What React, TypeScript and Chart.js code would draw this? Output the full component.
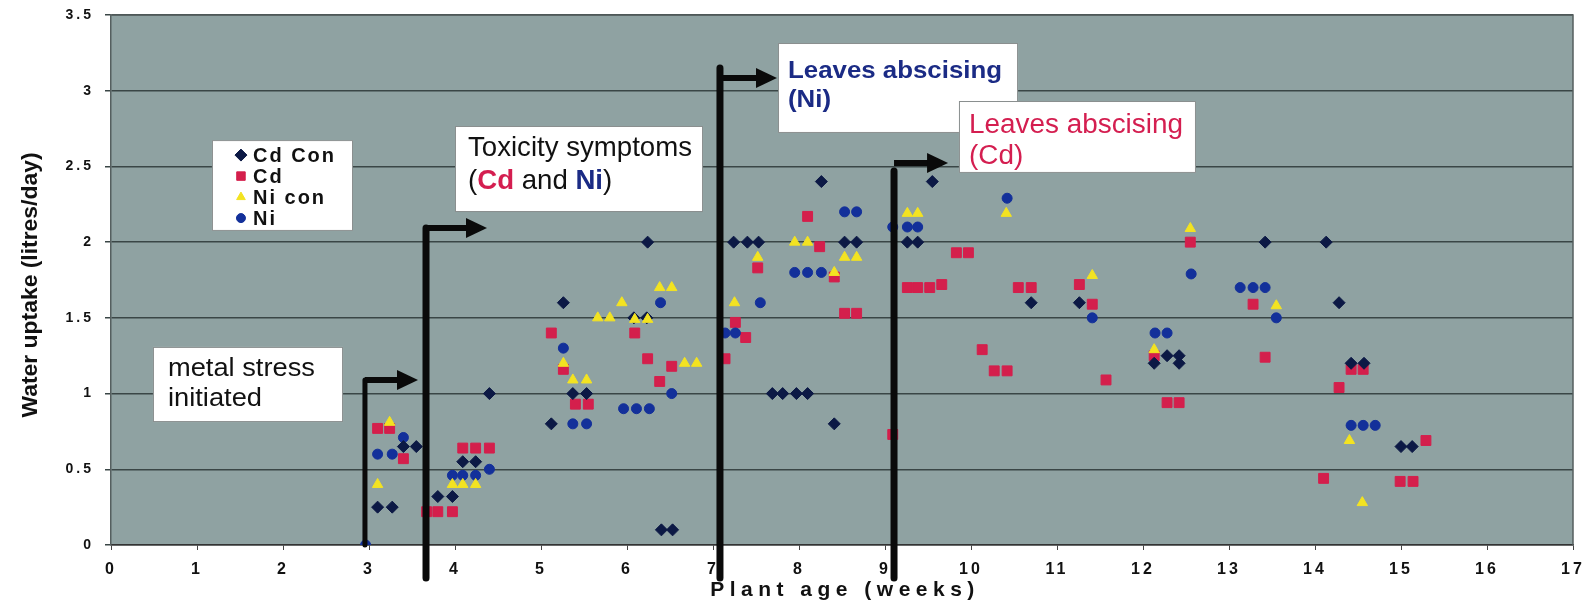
import React, { useEffect, useRef } from 'react';
import { Chart, registerables } from 'chart.js';
import { drawPoint } from 'chart.js/helpers';

Chart.register(...registerables);

// ---------------- DATA ----------------
const seriesLabels = ['Cd Con', 'Cd', 'Ni con', 'Ni'];

const cdConWeeks = [3.10, 3.27, 3.40, 3.55, 3.80, 3.97, 4.09, 4.24, 4.40, 5.12, 5.26, 5.37, 5.53, 6.08, 6.23, 6.24, 6.40, 6.53,
  7.24, 7.40, 7.53, 7.69, 7.81, 7.97, 8.10, 8.26, 8.41, 8.53, 8.67, 9.26, 9.38, 9.55, 10.70, 11.26, 12.13, 12.28, 12.42, 12.42,
  13.42, 14.13, 14.28, 14.42, 14.57, 15.00, 15.13];
const cdConValues = [0.25, 0.25, 0.65, 0.65, 0.32, 0.32, 0.55, 0.55, 1.00, 0.80, 1.60, 1.00, 1.00, 1.50, 1.50, 2.00, 0.10, 0.10,
  2.00, 2.00, 2.00, 1.00, 1.00, 1.00, 1.00, 2.40, 0.80, 2.00, 2.00, 2.00, 2.00, 2.40, 1.60, 1.60, 1.20, 1.25, 1.25, 1.20,
  2.00, 2.00, 1.60, 1.20, 1.20, 0.65, 0.65];

const cdWeeks = [3.10, 3.24, 3.40, 3.67, 3.80, 3.97, 4.09, 4.24, 4.40, 5.12, 5.26, 5.40, 5.55, 6.09, 6.24, 6.38, 6.52,
  7.14, 7.26, 7.38, 7.52, 8.10, 8.24, 8.41, 8.53, 8.67, 9.09, 9.26, 9.38, 9.52, 9.66, 9.83, 9.97, 10.13, 10.27, 10.42,
  10.55, 10.70, 11.26, 11.41, 11.57, 12.13, 12.28, 12.42, 12.55, 13.28, 13.42, 14.10, 14.28, 14.42, 14.56, 14.99, 15.14, 15.29];
const cdValues = [0.77, 0.77, 0.57, 0.22, 0.22, 0.22, 0.64, 0.64, 0.64, 1.40, 1.16, 0.93, 0.93, 1.40, 1.23, 1.08, 1.18,
  1.23, 1.47, 1.37, 1.83, 2.17, 1.97, 1.77, 1.53, 1.53, 0.73, 1.70, 1.70, 1.70, 1.72, 1.93, 1.93, 1.29, 1.15, 1.15,
  1.70, 1.70, 1.72, 1.59, 1.09, 1.25, 0.94, 0.94, 2.00, 1.59, 1.24, 0.44, 1.04, 1.16, 1.16, 0.42, 0.42, 0.69];

const niConWeeks = [3.10, 3.24, 3.97, 4.09, 4.24, 5.26, 5.37, 5.53, 5.66, 5.80, 5.94, 6.09, 6.24, 6.38, 6.52, 6.67, 6.81,
  7.25, 7.52, 7.95, 8.10, 8.41, 8.53, 8.67, 9.26, 9.38, 10.41, 11.41, 12.13, 12.55, 13.55, 14.40, 14.55];
const niConValues = [0.40, 0.81, 0.40, 0.40, 0.40, 1.20, 1.09, 1.09, 1.50, 1.50, 1.60, 1.49, 1.49, 1.70, 1.70, 1.20, 1.20,
  1.60, 1.90, 2.00, 2.00, 1.80, 1.90, 1.90, 2.19, 2.19, 2.19, 1.78, 1.29, 2.09, 1.58, 0.69, 0.28];

const niWeeks = [2.96, 3.10, 3.27, 3.40, 3.97, 4.09, 4.24, 4.40, 5.26, 5.37, 5.53, 5.96, 6.11, 6.26, 6.39, 6.52,
  7.14, 7.26, 7.55, 7.95, 8.10, 8.26, 8.53, 8.67, 9.09, 9.26, 9.38, 10.42, 11.41, 12.14, 12.28, 12.56,
  13.13, 13.28, 13.42, 13.55, 14.42, 14.56, 14.70];
const niValues = [0.00, 0.60, 0.60, 0.71, 0.46, 0.46, 0.46, 0.50, 1.30, 0.80, 0.80, 0.90, 0.90, 0.90, 1.60, 1.00,
  1.40, 1.40, 1.60, 1.80, 1.80, 1.80, 2.20, 2.20, 2.10, 2.10, 2.10, 2.29, 1.50, 1.40, 1.40, 1.79,
  1.70, 1.70, 1.70, 1.50, 0.79, 0.79, 0.79];

const xTitle = 'Plant age (weeks)';
const yTitle = 'Water uptake (litres/day)';

// ---------------- STYLE ----------------
const FONT = '"Liberation Sans", Arial, Helvetica, sans-serif';
const PLOT_BG = '#8fa2a2';
const GRID = '#3a4646';
const C_CDCON = '#0c1945';
const C_CD = '#d41f4c';
const C_NICON = '#f3e321';
const C_NI = '#13309a';
const NAVY_TXT = '#1b2b85';
const CRIMSON_TXT = '#d41e50';

const toPoints = (xs: number[], ys: number[]) => xs.map((x, i) => ({ x, y: ys[i] }));

// annotation layout (in axis units)
const arrows = [
  { x: 2.953, yBottom: 0, yTop: 1.09, yArrow: 1.09, xEnd: 3.57, lw: 5 },
  { x: 3.663, yBottom: -0.218, yTop: 2.093, yArrow: 2.093, xEnd: 4.372, lw: 7 },
  { x: 7.081, yBottom: -0.218, yTop: 3.15, yArrow: 3.084, xEnd: 7.744, lw: 7 },
  { x: 9.105, yBottom: -0.218, yTop: 2.47, yArrow: 2.523, xEnd: 9.733, lw: 7 },
];

type Seg = { t: string; c: string; bold?: boolean };
const boxes: { x0: number; x1: number; yTop: number; yBot: number; pad: number; size: number; bold: boolean; target: number; base: number[]; lines: Seg[][] }[] = [
  { x0: 0.488, x1: 2.698, yTop: 1.308, yBot: 0.812, pad: 15, size: 25, bold: false, target: 147, base: [29, 59],
    lines: [[{ t: 'metal stress', c: '#111' }], [{ t: 'initiated', c: '#111' }]] },
  { x0: 4.0, x1: 6.884, yTop: 2.767, yBot: 2.199, pad: 13, size: 28, bold: false, target: 224, base: [30, 63],
    lines: [[{ t: 'Toxicity symptoms', c: '#111' }],
      [{ t: '(', c: '#111' }, { t: 'Cd', c: CRIMSON_TXT, bold: true }, { t: ' and ', c: '#111' }, { t: 'Ni', c: NAVY_TXT, bold: true }, { t: ')', c: '#111' }]] },
  { x0: 7.756, x1: 10.547, yTop: 3.315, yBot: 2.721, pad: 10, size: 24, bold: true, target: 214, base: [35, 64],
    lines: [[{ t: 'Leaves abscising', c: NAVY_TXT }], [{ t: '(Ni)', c: NAVY_TXT }]] },
  { x0: 9.860, x1: 12.616, yTop: 2.932, yBot: 2.457, pad: 10, size: 27, bold: false, target: 214, base: [32, 63],
    lines: [[{ t: 'Leaves abscising', c: CRIMSON_TXT }], [{ t: '(Cd)', c: CRIMSON_TXT }]] },
];

const legendBox = { x0: 1.174, x1: 2.814, yTop: 2.674, yBot: 2.074 };

const segFont = (size: number, bold: boolean) => `${bold ? 'bold ' : ''}${size}px ${FONT}`;

const decorPlugin = {
  id: 'decor',
  beforeDraw(chart: any) {
    const { ctx, chartArea: a } = chart;
    ctx.save();
    ctx.fillStyle = '#ffffff';
    ctx.fillRect(0, 0, chart.width, chart.height);
    ctx.fillStyle = PLOT_BG;
    ctx.fillRect(a.left, a.top, a.right - a.left, a.bottom - a.top);
    ctx.restore();
    ctx.letterSpacing = '3px';
  },
  beforeDatasetsDraw(chart: any) {
    chart.ctx.letterSpacing = '0px';
  },
  afterDatasetsDraw(chart: any) {
    const { ctx, chartArea: a } = chart;
    const xs = chart.scales.x;
    const ys = chart.scales.y;
    ctx.save();
    ctx.letterSpacing = '0px';

    // plot frame (top / right)
    ctx.strokeStyle = '#555f5f';
    ctx.lineWidth = 1.5;
    ctx.beginPath();
    ctx.moveTo(a.left, a.top);
    ctx.lineTo(a.right, a.top);
    ctx.lineTo(a.right, a.bottom);
    ctx.stroke();

    // arrows
    ctx.fillStyle = '#0a0a0a';
    ctx.strokeStyle = '#0a0a0a';
    for (const ar of arrows) {
      const px = xs.getPixelForValue(ar.x);
      const pb = ys.getPixelForValue(ar.yBottom);
      const pt = ys.getPixelForValue(ar.yTop);
      const pa = ys.getPixelForValue(ar.yArrow);
      const pe = xs.getPixelForValue(ar.xEnd);
      ctx.lineWidth = ar.lw;
      ctx.lineCap = 'round';
      ctx.beginPath();
      ctx.moveTo(px, pb);
      ctx.lineTo(px, pt);
      ctx.stroke();
      ctx.lineWidth = 6;
      ctx.lineCap = 'butt';
      ctx.beginPath();
      ctx.moveTo(px, pa);
      ctx.lineTo(pe - 16, pa);
      ctx.stroke();
      ctx.beginPath();
      ctx.moveTo(pe, pa);
      ctx.lineTo(pe - 21, pa - 10);
      ctx.lineTo(pe - 21, pa + 10);
      ctx.closePath();
      ctx.fill();
    }

    // text boxes
    for (const b of boxes) {
      const l = xs.getPixelForValue(b.x0);
      const r = xs.getPixelForValue(b.x1);
      const t = ys.getPixelForValue(b.yTop);
      const bt = ys.getPixelForValue(b.yBot);
      ctx.fillStyle = '#ffffff';
      ctx.fillRect(l, t, r - l, bt - t);
      ctx.strokeStyle = '#8a8f8f';
      ctx.lineWidth = 1;
      ctx.strokeRect(l + 0.5, t + 0.5, r - l - 1, bt - t - 1);
      const measure = (segs: Seg[]) => segs.reduce((s, sg) => {
        ctx.font = segFont(b.size, b.bold || !!sg.bold);
        return s + ctx.measureText(sg.t).width;
      }, 0);
      const sx = b.target / measure(b.lines[0]);
      b.lines.forEach((segs, li) => {
        ctx.save();
        ctx.translate(l + b.pad, t + b.base[li]);
        ctx.scale(sx, 1);
        let cx = 0;
        ctx.textBaseline = 'alphabetic';
        ctx.textAlign = 'left';
        for (const sg of segs) {
          ctx.font = segFont(b.size, b.bold || !!sg.bold);
          ctx.fillStyle = sg.c;
          ctx.fillText(sg.t, cx, 0);
          cx += ctx.measureText(sg.t).width;
        }
        ctx.restore();
      });
    }

    // legend
    {
      const l = xs.getPixelForValue(legendBox.x0);
      const r = xs.getPixelForValue(legendBox.x1);
      const t = ys.getPixelForValue(legendBox.yTop);
      const bt = ys.getPixelForValue(legendBox.yBot);
      ctx.fillStyle = '#ffffff';
      ctx.fillRect(l, t, r - l, bt - t);
      ctx.strokeStyle = '#8a8f8f';
      ctx.lineWidth = 1;
      ctx.strokeRect(l + 0.5, t + 0.5, r - l - 1, bt - t - 1);
      const order = [0, 1, 2, 3];
      order.forEach((di, i) => {
        const ds = chart.data.datasets[di];
        const cy = t + 15 + i * 21;
        ctx.fillStyle = ds.backgroundColor;
        ctx.strokeStyle = ds.borderColor;
        drawPoint(ctx, { pointStyle: ds.pointStyle, radius: ds.legendRadius, rotation: 0, borderWidth: 1 } as any, l + 29, cy);
        ctx.fillStyle = '#111';
        ctx.font = `bold 20px ${FONT}`;
        ctx.letterSpacing = '2px';
        ctx.textBaseline = 'middle';
        ctx.textAlign = 'left';
        ctx.fillText(ds.label, l + 41, cy + 1);
        ctx.letterSpacing = '0px';
      });
    }

    // axis titles
    ctx.fillStyle = '#111';
    ctx.font = `bold 21px ${FONT}`;
    ctx.letterSpacing = '5.5px';
    ctx.textAlign = 'center';
    ctx.textBaseline = 'alphabetic';
    ctx.fillText(xTitle, (a.left + a.right) / 2 + 3, 596);
    ctx.letterSpacing = '0px';

    ctx.save();
    ctx.translate(31, (a.top + a.bottom) / 2 + 5);
    ctx.rotate(-Math.PI / 2);
    ctx.font = `bold 22px ${FONT}`;
    const w = ctx.measureText(yTitle).width;
    ctx.scale(265 / w, 1);
    ctx.textAlign = 'center';
    ctx.textBaseline = 'middle';
    ctx.fillText(yTitle, 0, 0);
    ctx.restore();

    ctx.restore();
  },
  afterDraw(chart: any) {
    chart.ctx.letterSpacing = '0px';
  },
};

export default function App() {
  const ref = useRef<HTMLCanvasElement>(null);
  useEffect(() => {
    const chart = new Chart(ref.current as HTMLCanvasElement, {
      type: 'scatter',
      data: {
        datasets: [
          { label: seriesLabels[0], data: toPoints(cdConWeeks, cdConValues), pointStyle: 'rectRot', pointRadius: 6,
            backgroundColor: C_CDCON, borderColor: C_CDCON, borderWidth: 1, order: 1, legendRadius: 6 } as any,
          { label: seriesLabels[1], data: toPoints(cdWeeks, cdValues), pointStyle: 'rect', pointRadius: 7,
            backgroundColor: C_CD, borderColor: C_CD, borderWidth: 1, order: 3, legendRadius: 6 } as any,
          { label: seriesLabels[2], data: toPoints(niConWeeks, niConValues), pointStyle: 'triangle', pointRadius: 6,
            backgroundColor: C_NICON, borderColor: C_NICON, borderWidth: 1, order: 0, legendRadius: 5 } as any,
          { label: seriesLabels[3], data: toPoints(niWeeks, niValues), pointStyle: 'circle', pointRadius: 5,
            backgroundColor: C_NI, borderColor: C_NI, borderWidth: 1, order: 2, legendRadius: 4.5 } as any,
        ],
      },
      options: {
        responsive: false,
        animation: false,
        events: [],
        layout: { padding: { left: 0, right: 21, top: 15, bottom: 0 } },
        plugins: { legend: { display: false }, tooltip: { enabled: false }, title: { display: false } },
        scales: {
          x: {
            type: 'linear', min: 0, max: 17,
            afterFit: (s: any) => { s.height = 61; s.paddingLeft = 0; s.paddingRight = 0; },
            ticks: { stepSize: 1, color: '#111', padding: 10, font: { family: FONT, size: 16, weight: 'bold' }, maxRotation: 0, autoSkip: false,
              callback: (v: any) => `${Number(v)}` },
            grid: { drawOnChartArea: false, drawTicks: true, tickLength: 5, color: '#444', lineWidth: 1 },
            border: { display: true, color: '#333', width: 1.5 },
          },
          y: {
            type: 'linear', min: 0, max: 3.5,
            afterFit: (s: any) => { s.width = 111; s.paddingTop = 0; s.paddingBottom = 0; },
            ticks: { stepSize: 0.5, color: '#111', padding: 11, font: { family: FONT, size: 14, weight: 'bold' },
              callback: (v: any) => `${Number(v)}` },
            grid: { drawOnChartArea: true, drawTicks: true, tickLength: 6, color: GRID, lineWidth: 1.5 },
            border: { display: true, color: '#555f5f', width: 1.5 },
          },
        },
      } as any,
      plugins: [decorPlugin],
    });
    return () => chart.destroy();
  }, []);
  return (
    <div style={{ position: 'fixed', left: 0, top: 0, width: 1594, height: 606, background: '#fff' }}>
      <canvas ref={ref} width={1594} height={606} style={{ display: 'block', width: 1594, height: 606 }} />
    </div>
  );
}
